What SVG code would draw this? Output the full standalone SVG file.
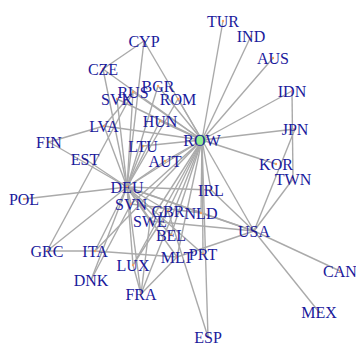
<svg xmlns="http://www.w3.org/2000/svg" width="356" height="344" viewBox="0 0 356 344">
<style>
.e{stroke:#aaaaaa;stroke-width:1.4;fill:none}
.v{fill:#f4a460;stroke:none}
.r{fill:#90ee90;stroke:#7fbf7f;stroke-width:0.6}
text{font-family:"Liberation Serif","Times New Roman",serif;font-size:16px;fill:#1a1a9c;text-anchor:middle}
</style>
<rect width="356" height="344" fill="#ffffff"/>
<g id="edges">
<line class="e" x1="202" y1="140" x2="223" y2="21"/>
<line class="e" x1="202" y1="140" x2="251" y2="36"/>
<line class="e" x1="202" y1="140" x2="273" y2="58"/>
<line class="e" x1="202" y1="140" x2="292" y2="91"/>
<line class="e" x1="202" y1="140" x2="295" y2="129"/>
<line class="e" x1="202" y1="140" x2="276" y2="164"/>
<line class="e" x1="202" y1="140" x2="254" y2="231"/>
<line class="e" x1="202" y1="140" x2="144" y2="41"/>
<line class="e" x1="202" y1="140" x2="103" y2="69"/>
<line class="e" x1="202" y1="140" x2="133" y2="92"/>
<line class="e" x1="202" y1="140" x2="158" y2="86"/>
<line class="e" x1="202" y1="140" x2="178" y2="99"/>
<line class="e" x1="202" y1="140" x2="160" y2="121"/>
<line class="e" x1="202" y1="140" x2="104" y2="126"/>
<line class="e" x1="202" y1="140" x2="143" y2="146"/>
<line class="e" x1="202" y1="140" x2="165" y2="161"/>
<line class="e" x1="202" y1="140" x2="127" y2="187"/>
<line class="e" x1="202" y1="140" x2="131" y2="204"/>
<line class="e" x1="202" y1="140" x2="117" y2="99"/>
<line class="e" x1="202" y1="140" x2="168" y2="211"/>
<line class="e" x1="202" y1="140" x2="201" y2="213"/>
<line class="e" x1="202" y1="140" x2="211" y2="190"/>
<line class="e" x1="202" y1="140" x2="171" y2="235"/>
<line class="e" x1="202" y1="140" x2="150" y2="221"/>
<line class="e" x1="202" y1="140" x2="177" y2="257"/>
<line class="e" x1="202" y1="140" x2="203" y2="254"/>
<line class="e" x1="202" y1="140" x2="208" y2="337"/>
<line class="e" x1="202" y1="140" x2="141" y2="294"/>
<line class="e" x1="202" y1="140" x2="133" y2="265"/>
<line class="e" x1="202" y1="140" x2="95" y2="251"/>
<line class="e" x1="127" y1="187" x2="24" y2="199"/>
<line class="e" x1="127" y1="187" x2="49" y2="142"/>
<line class="e" x1="127" y1="187" x2="85" y2="159"/>
<line class="e" x1="127" y1="187" x2="104" y2="126"/>
<line class="e" x1="127" y1="187" x2="103" y2="69"/>
<line class="e" x1="127" y1="187" x2="144" y2="41"/>
<line class="e" x1="127" y1="187" x2="133" y2="92"/>
<line class="e" x1="127" y1="187" x2="117" y2="99"/>
<line class="e" x1="127" y1="187" x2="158" y2="86"/>
<line class="e" x1="127" y1="187" x2="178" y2="99"/>
<line class="e" x1="127" y1="187" x2="160" y2="121"/>
<line class="e" x1="127" y1="187" x2="143" y2="146"/>
<line class="e" x1="127" y1="187" x2="165" y2="161"/>
<line class="e" x1="127" y1="187" x2="131" y2="204"/>
<line class="e" x1="127" y1="187" x2="168" y2="211"/>
<line class="e" x1="127" y1="187" x2="201" y2="213"/>
<line class="e" x1="127" y1="187" x2="150" y2="221"/>
<line class="e" x1="127" y1="187" x2="171" y2="235"/>
<line class="e" x1="127" y1="187" x2="211" y2="190"/>
<line class="e" x1="127" y1="187" x2="254" y2="231"/>
<line class="e" x1="127" y1="187" x2="95" y2="251"/>
<line class="e" x1="127" y1="187" x2="47" y2="251"/>
<line class="e" x1="127" y1="187" x2="133" y2="265"/>
<line class="e" x1="127" y1="187" x2="91" y2="280"/>
<line class="e" x1="127" y1="187" x2="141" y2="294"/>
<line class="e" x1="127" y1="187" x2="177" y2="257"/>
<line class="e" x1="127" y1="187" x2="203" y2="254"/>
<line class="e" x1="144" y1="41" x2="103" y2="69"/>
<line class="e" x1="49" y1="142" x2="104" y2="126"/>
<line class="e" x1="104" y1="126" x2="133" y2="92"/>
<line class="e" x1="133" y1="92" x2="47" y2="251"/>
<line class="e" x1="292" y1="91" x2="293" y2="179"/>
<line class="e" x1="295" y1="129" x2="254" y2="231"/>
<line class="e" x1="293" y1="179" x2="254" y2="231"/>
<line class="e" x1="254" y1="231" x2="340" y2="271"/>
<line class="e" x1="254" y1="231" x2="319" y2="312"/>
<line class="e" x1="254" y1="231" x2="211" y2="190"/>
<line class="e" x1="254" y1="231" x2="201" y2="213"/>
<line class="e" x1="254" y1="231" x2="150" y2="221"/>
<line class="e" x1="254" y1="231" x2="177" y2="257"/>
<line class="e" x1="208" y1="337" x2="168" y2="211"/>
<line class="e" x1="47" y1="251" x2="95" y2="251"/>
<line class="e" x1="95" y1="251" x2="177" y2="257"/>
<line class="e" x1="133" y1="265" x2="141" y2="294"/>
<line class="e" x1="150" y1="221" x2="141" y2="294"/>
<line class="e" x1="91" y1="280" x2="131" y2="204"/>
<line class="e" x1="177" y1="257" x2="141" y2="294"/>
<line class="e" x1="131" y1="204" x2="201" y2="213"/>
<line class="e" x1="133" y1="265" x2="168" y2="211"/>
</g>
<g id="ROW"><circle class="r" cx="201" cy="140" r="5"/><text x="202" y="145.5">ROW</text></g>
<g id="CYP"><circle class="v" cx="144" cy="41" r="1.2"/><text x="144" y="46.5">CYP</text></g>
<g id="CZE"><circle class="v" cx="103" cy="69" r="1.2"/><text x="103" y="74.5">CZE</text></g>
<g id="BGR"><circle class="v" cx="158" cy="86" r="1.2"/><text x="158" y="91.5">BGR</text></g>
<g id="RUS"><circle class="v" cx="133" cy="92" r="1.2"/><text x="133" y="97.5">RUS</text></g>
<g id="SVK"><circle class="v" cx="117" cy="99" r="1.2"/><text x="117" y="104.5">SVK</text></g>
<g id="ROM"><circle class="v" cx="178" cy="99" r="1.2"/><text x="178" y="104.5">ROM</text></g>
<g id="HUN"><circle class="v" cx="160" cy="121" r="1.2"/><text x="160" y="126.5">HUN</text></g>
<g id="LVA"><circle class="v" cx="104" cy="126" r="1.2"/><text x="104" y="131.5">LVA</text></g>
<g id="FIN"><circle class="v" cx="49" cy="142" r="1.2"/><text x="49" y="147.5">FIN</text></g>
<g id="EST"><circle class="v" cx="85" cy="159" r="1.2"/><text x="85" y="164.5">EST</text></g>
<g id="LTU"><circle class="v" cx="143" cy="146" r="1.2"/><text x="143" y="151.5">LTU</text></g>
<g id="AUT"><circle class="v" cx="165" cy="161" r="1.2"/><text x="165" y="166.5">AUT</text></g>
<g id="TUR"><circle class="v" cx="223" cy="21" r="1.2"/><text x="223" y="26.5">TUR</text></g>
<g id="IND"><circle class="v" cx="251" cy="36" r="1.2"/><text x="251" y="41.5">IND</text></g>
<g id="AUS"><circle class="v" cx="273" cy="58" r="1.2"/><text x="273" y="63.5">AUS</text></g>
<g id="IDN"><circle class="v" cx="292" cy="91" r="1.2"/><text x="292" y="96.5">IDN</text></g>
<g id="JPN"><circle class="v" cx="295" cy="129" r="1.2"/><text x="295" y="134.5">JPN</text></g>
<g id="KOR"><circle class="v" cx="276" cy="164" r="1.2"/><text x="276" y="169.5">KOR</text></g>
<g id="TWN"><circle class="v" cx="293" cy="179" r="1.2"/><text x="293" y="184.5">TWN</text></g>
<g id="DEU"><circle class="v" cx="127" cy="187" r="1.2"/><text x="127" y="192.5">DEU</text></g>
<g id="POL"><circle class="v" cx="24" cy="199" r="1.2"/><text x="24" y="204.5">POL</text></g>
<g id="SVN"><circle class="v" cx="131" cy="204" r="1.2"/><text x="131" y="209.5">SVN</text></g>
<g id="GBR"><circle class="v" cx="168" cy="211" r="1.2"/><text x="168" y="216.5">GBR</text></g>
<g id="NLD"><circle class="v" cx="201" cy="213" r="1.2"/><text x="201" y="218.5">NLD</text></g>
<g id="SWE"><circle class="v" cx="150" cy="221" r="1.2"/><text x="150" y="226.5">SWE</text></g>
<g id="BEL"><circle class="v" cx="171" cy="235" r="1.2"/><text x="171" y="240.5">BEL</text></g>
<g id="IRL"><circle class="v" cx="211" cy="190" r="1.2"/><text x="211" y="195.5">IRL</text></g>
<g id="USA"><circle class="v" cx="254" cy="231" r="1.2"/><text x="254" y="236.5">USA</text></g>
<g id="ITA"><circle class="v" cx="95" cy="251" r="1.2"/><text x="95" y="256.5">ITA</text></g>
<g id="GRC"><circle class="v" cx="47" cy="251" r="1.2"/><text x="47" y="256.5">GRC</text></g>
<g id="MLT"><circle class="v" cx="177" cy="257" r="1.2"/><text x="177" y="262.5">MLT</text></g>
<g id="PRT"><circle class="v" cx="203" cy="254" r="1.2"/><text x="203" y="259.5">PRT</text></g>
<g id="LUX"><circle class="v" cx="133" cy="265" r="1.2"/><text x="133" y="270.5">LUX</text></g>
<g id="DNK"><circle class="v" cx="91" cy="280" r="1.2"/><text x="91" y="285.5">DNK</text></g>
<g id="FRA"><circle class="v" cx="141" cy="294" r="1.2"/><text x="141" y="299.5">FRA</text></g>
<g id="CAN"><circle class="v" cx="340" cy="271" r="1.2"/><text x="340" y="276.5">CAN</text></g>
<g id="MEX"><circle class="v" cx="319" cy="312" r="1.2"/><text x="319" y="317.5">MEX</text></g>
<g id="ESP"><circle class="v" cx="208" cy="337" r="1.2"/><text x="208" y="342.5">ESP</text></g>
</svg>
